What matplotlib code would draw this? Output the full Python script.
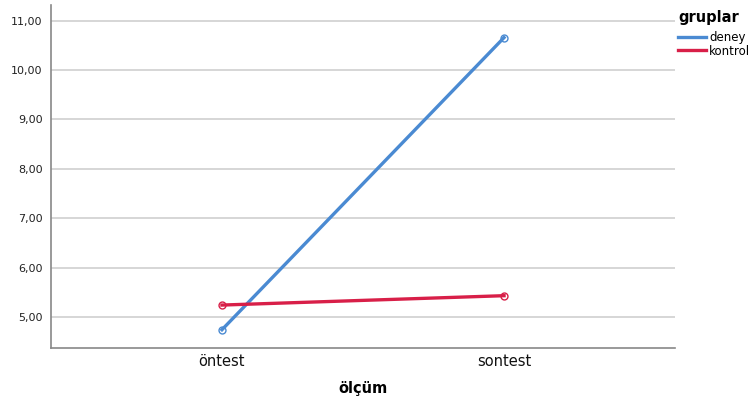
import matplotlib
matplotlib.use("Agg")
import matplotlib.pyplot as plt

olcum = ["öntest", "sontest"]
deney = [4.74, 10.66]
kontrol = [5.24, 5.43]
yticks = [5, 6, 7, 8, 9, 10, 11]

plt.rcParams['font.family'] = ['DejaVu Sans']

fig = plt.figure(figsize=(7.55, 3.99), dpi=100)
ax = fig.add_axes([51/755, 1 - 348/399, 624/755, 343/399])

x = list(range(len(olcum)))
ax.plot(x, deney, color='#4a8ad2', lw=2.4, marker='o', ms=5, mfc='none', mew=1, label='deney')
ax.plot(x, kontrol, color='#d81f48', lw=2.4, marker='o', ms=5, mfc='none', mew=1, label='kontrol')

ax.set_xlim(-0.606, 1.606)
ax.set_ylim(4.37, 11.32)
ax.set_yticks(yticks)
ax.set_yticklabels(["%d,00" % v for v in yticks], fontsize=8, color='#222222')
ax.set_xticks(x)
ax.set_xticklabels(olcum, fontsize=10.5, color='#111111')
ax.tick_params(length=0, pad=6)
ax.tick_params(axis='x', pad=4)
ax.grid(axis='y', color='#cccccc', lw=1.1)
ax.set_axisbelow(True)
for s in ['top', 'right']:
    ax.spines[s].set_visible(False)
for s in ['left', 'bottom']:
    ax.spines[s].set_color('#888888')
    ax.spines[s].set_linewidth(1.2)
ax.set_xlabel("ölçüm", fontsize=10.5, fontweight='bold', labelpad=9)

leg = fig.legend(loc='upper left', bbox_to_anchor=(676/755, 1 - 8/399), frameon=False,
                 title='gruplar', fontsize=8.5, handlelength=2.3, handletextpad=0.3,
                 labelspacing=0.05, borderaxespad=0, borderpad=0.2)
leg.get_title().set_fontweight('bold')
leg.get_title().set_fontsize(10.5)
leg._legend_box.align = "left"
leg._legend_box.sep = 4
for h in leg.legend_handles:
    h.set_marker('')

fig.savefig("out.png", dpi=100)
